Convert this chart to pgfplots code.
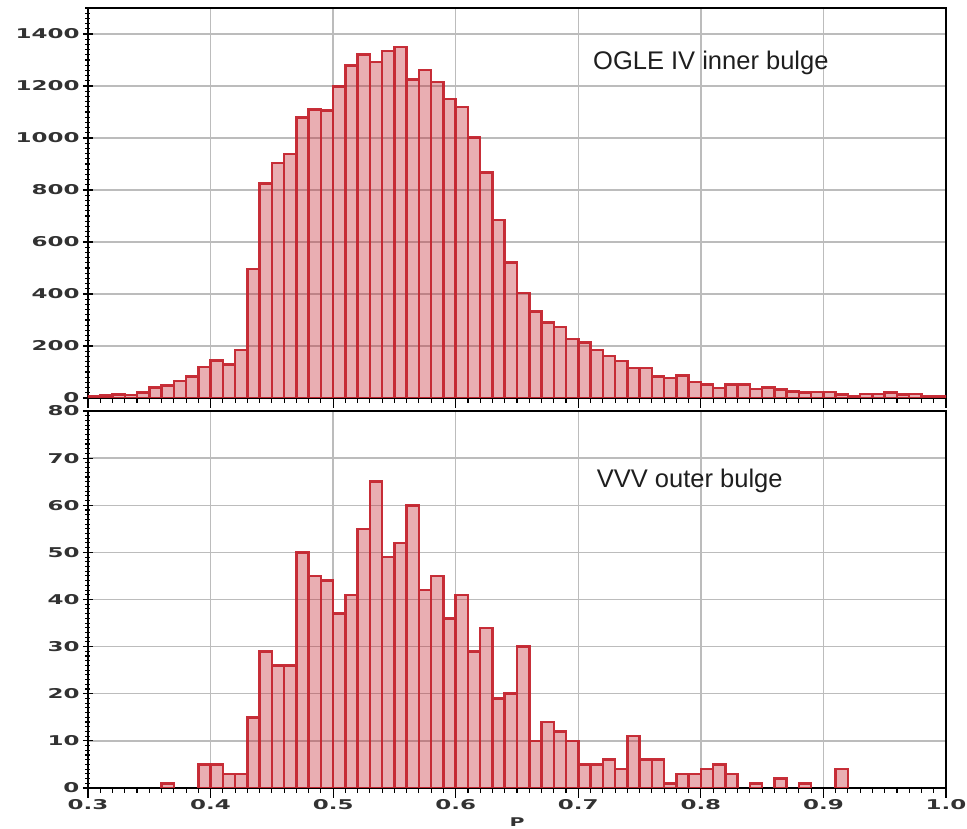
\documentclass[border=0pt]{standalone}
\usepackage{pgfplots}
\pgfplotsset{compat=1.18}
\usepackage{pgfplotstable}
\usepackage{fontspec}
\setmainfont{Liberation Sans}
\newfontfamily\tickfont[FakeStretch=1.7]{DejaVu Sans}

\definecolor{barred}{RGB}{196,36,46}
\definecolor{gridgray}{RGB}{188,188,188}
\definecolor{tickgray}{RGB}{50,50,50}
\definecolor{annot}{RGB}{30,30,30}

% bin centres (bin width 0.01) and counts
\pgfplotstableread{
p      n
0.305  6
0.315  10
0.325  13
0.335  12
0.345  22
0.355  41
0.365  49
0.375  66
0.385  83
0.395  119
0.405  144
0.415  128
0.425  185
0.435  496
0.445  825
0.455  904
0.465  939
0.475  1078
0.485  1110
0.495  1106
0.505  1198
0.515  1279
0.525  1321
0.535  1292
0.545  1334
0.555  1349
0.565  1225
0.575  1262
0.585  1215
0.595  1150
0.605  1119
0.615  1001
0.625  867
0.635  684
0.645  522
0.655  403
0.665  332
0.675  290
0.685  274
0.695  227
0.705  213
0.715  185
0.725  162
0.735  143
0.745  115
0.755  115
0.765  83
0.775  76
0.785  87
0.795  61
0.805  51
0.815  38
0.825  51
0.835  51
0.845  34
0.855  41
0.865  32
0.875  25
0.885  22
0.895  24
0.905  24
0.915  13
0.925  6
0.935  15
0.945  15
0.955  22
0.965  13
0.975  15
0.985  6
0.995  6
}\ogle

\pgfplotstableread{
p      n
0.365  1
0.395  5
0.405  5
0.415  3
0.425  3
0.435  15
0.445  29
0.455  26
0.465  26
0.475  50
0.485  45
0.495  44
0.505  37
0.515  41
0.525  55
0.535  65
0.545  49
0.555  52
0.565  60
0.575  42
0.585  45
0.595  36
0.605  41
0.615  29
0.625  34
0.635  19
0.645  20
0.655  30
0.665  10
0.675  14
0.685  12
0.695  10
0.705  5
0.715  5
0.725  6
0.735  4
0.745  11
0.755  6
0.765  6
0.775  1
0.785  3
0.795  3
0.805  4
0.815  5
0.825  3
0.845  1
0.865  2
0.885  1
0.915  4
}\vvv

\pgfplotsset{
  panel/.style={
    width=858pt, scale only axis,
    xmin=0.3, xmax=1.0, xtick distance=0.1, minor x tick num=9,
    ymin=0,
    grid=major, major grid style={line width=1.3pt, gridgray},
    axis line style={line width=1.5pt, black},
    tick style={line width=1.1pt, black},
    tick align=center, major tick length=10pt, minor tick length=5pt,
    xtick pos=bottom, ytick pos=left,
    ticklabel style={font=\tickfont\bfseries\fontsize{13.5}{14}\selectfont, text=tickgray},
    xticklabel style={yshift=2pt},
    /pgf/number format/assume math mode=true,
    xticklabel style={/pgf/number format/.cd, fixed, fixed zerofill, precision=1},
    yticklabel style={/pgf/number format/.cd, fixed, precision=0, 1000 sep={}},
    ybar, bar width=0.01,
  },
  bars/.style={draw=barred, line width=2.5pt, fill=barred, fill opacity=0.37, draw opacity=0.95},
}

\begin{document}
\begin{tikzpicture}
\begin{axis}[panel, at={(0,390pt)}, anchor=south west, height=390pt,
    ymax=1500, ytick distance=200, minor y tick num=9, xticklabels={}]
  \addplot[bars] table[x=p, y=n] {\ogle};
  \node[anchor=west, inner sep=0pt, text=annot, font=\fontsize{25.5}{28}\selectfont]
    at (axis cs:0.712,1289) {OGLE IV inner bulge};
\end{axis}
\begin{axis}[panel, at={(0,0)}, anchor=south west, height=377pt,
    ymax=80, ytick distance=10, minor y tick num=9,
    xlabel={P},
    xlabel style={at={(axis description cs:0.5,0)}, anchor=center, yshift=-34pt,
      font=\tickfont\bfseries\fontsize{12}{13}\selectfont, text=tickgray}]
  \addplot[bars] table[x=p, y=n] {\vvv};
  \node[anchor=west, inner sep=0pt, text=annot, font=\fontsize{25.5}{28}\selectfont]
    at (axis cs:0.715,65.2) {VVV outer bulge};
\end{axis}
\pgfresetboundingbox
\path[use as bounding box] (-88pt,-41pt) rectangle (879pt,788pt);
\end{tikzpicture}
\end{document}
